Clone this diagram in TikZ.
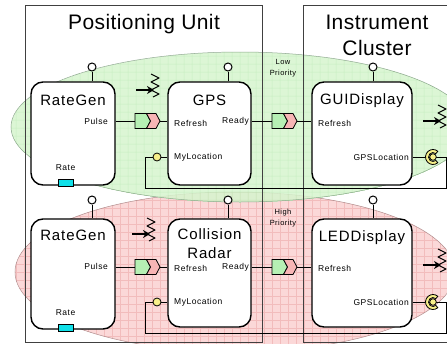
\documentclass[tikz,border=0pt]{standalone}
\usepackage{fontspec}
\setmainfont{Liberation Sans}[LetterSpace=6]
\newfontfamily\unitfont{Liberation Sans}[LetterSpace=2]
\usetikzlibrary{arrows.meta}

\definecolor{lowfill}{HTML}{D6F5CE}
\definecolor{lowgrid}{HTML}{BDEAB5}
\definecolor{lowedge}{HTML}{8AA88A}
\definecolor{highfill}{HTML}{FBD8D8}
\definecolor{highgrid}{HTML}{F2BCBC}
\definecolor{highedge}{HTML}{B08C8C}
\definecolor{chevgreen}{HTML}{B6F0B4}
\definecolor{chevpink}{HTML}{F7B5B5}
\definecolor{ballyellow}{HTML}{F7F08A}
\definecolor{ratecyan}{HTML}{10E0E8}

\tikzset{
  comp/.style={draw, line width=1.4pt, fill=white, rounded corners=12pt, inner sep=0},
  ctitle/.style={font=\fontsize{15}{19}\selectfont, align=center, inner sep=0, anchor=base},
  utitle/.style={font=\unitfont\fontsize{21}{26}\selectfont, inner sep=0, anchor=base},
  port/.style={font=\fontsize{8.5}{9}\selectfont, inner sep=0},
  prio/.style={font=\fontsize{7.5}{11}\selectfont, align=center, inner sep=0},
  wire/.style={draw, line width=1pt},
  gridline/.style={line width=0.5pt},
  pinball/.style={circle, draw, line width=1pt, fill=white, minimum size=8pt, inner sep=0},
  ball/.style={circle, draw, line width=0.8pt, fill=ballyellow, minimum size=8pt, inner sep=0},
  rateport/.style={draw, line width=0.8pt, fill=ratecyan, minimum width=15pt, minimum height=7pt, inner sep=0},
  unitbox/.style={draw=black!75, line width=0.9pt},
  chev/.pic={
    \filldraw[fill=chevgreen, line width=0.8pt] (-12.5,-7.5) -- (-1,-7.5) -- (3,0) -- (-1,7.5) -- (-12.5,7.5) -- cycle;
    \filldraw[fill=chevpink, line width=0.8pt] (-1,-7.5) -- (8.5,-7.5) -- (12.5,0) -- (8.5,7.5) -- (-1,7.5) -- (3,0) -- cycle;
    \coordinate (-in) at (-12.5,0);
    \coordinate (-out) at (12.5,0);
  },
  evt/.pic={
    \draw[line width=1pt, line join=round] (-4,-11) -- (4,-7) -- (-4,-3) -- (4,1) -- (-4,5) -- (4,9) -- (-2,12);
    \draw[line width=1.6pt, -{Stealth[length=7pt, width=8pt]}] (-19,5) -- (-1,5);
  },
}

\begin{document}
\begin{tikzpicture}[x=1pt,y=-1pt]
\useasboundingbox (0,0) rectangle (447,343);

% priority regions
\begin{scope}
  \clip (235,272) ellipse [x radius=220, y radius=80];
  \fill[highfill] (0,180) rectangle (460,360);
  \foreach \gx in {0,8,...,456} \draw[gridline, highgrid] (\gx,180) -- (\gx,360);
  \foreach \gy in {184,192,...,356} \draw[gridline, highgrid] (0,\gy) -- (460,\gy);
\end{scope}
\draw[highedge, line width=0.5pt] (235,272) ellipse [x radius=220, y radius=80];

\begin{scope}
  \clip (240,127) ellipse [x radius=229, y radius=75];
  \begin{scope}[opacity=0.85, transparency group]
    \fill[lowfill] (0,40) rectangle (470,210);
    \foreach \gx in {0,8,...,464} \draw[gridline, lowgrid] (\gx,40) -- (\gx,210);
    \foreach \gy in {48,56,...,208} \draw[gridline, lowgrid] (0,\gy) -- (470,\gy);
  \end{scope}
\end{scope}
\draw[lowedge, line width=0.5pt] (240,127) ellipse [x radius=229, y radius=75];

% units
\draw[unitbox] (25,5) rectangle (262,342);
\draw[unitbox] (303,5) rectangle (470,342);
\node[utitle] (posunit) at (144,29) {Positioning Unit};
\node[utitle] (instr) at (377,29) {Instrument};
\node[utitle] (cluster) at (377,55) {Cluster};

\node[prio] (lowprio) at (283,68) {Low\\Priority};
\node[prio] (highprio) at (283,218.5) {High\\Priority};

% components, low priority row
\node[comp, minimum width=84, minimum height=103] (rgA) at (73,133.5) {};
\node[comp, minimum width=83, minimum height=103] (gps) at (209.5,133.5) {};
\node[comp, minimum width=100, minimum height=103] (gui) at (362,133.5) {};
\node[ctitle] (rgA-t) at (73,105) {RateGen};
\node[ctitle] (gps-t) at (209.5,105) {GPS};
\node[ctitle] (gui-t) at (362,104) {GUIDisplay};

% components, high priority row
\node[comp, minimum width=84, minimum height=110] (rgB) at (73,274) {};
\node[comp, minimum width=83, minimum height=108] (radar) at (209.5,273) {};
\node[comp, minimum width=100, minimum height=108] (led) at (362,273) {};
\node[ctitle] (rgB-t) at (73,240) {RateGen};
\node[ctitle] (radar-t) at (209.5,258) {Collision\\Radar};
\node[ctitle] (led-t) at (362,241) {LEDDisplay};

% port labels
\node[port, anchor=east] (rgA-pulse) at (108,121) {Pulse};
\node[port] (rgA-rate) at (65.5,168) {Rate};
\node[port, anchor=west] (gps-refresh) at (174,123) {Refresh};
\node[port, anchor=east] (gps-ready) at (249,121) {Ready};
\node[port, anchor=west] (gps-myloc) at (174,157) {MyLocation};
\node[port, anchor=west] (gui-refresh) at (318,123) {Refresh};
\node[port, anchor=east] (gui-gpsloc) at (409,157) {GPSLocation};

\node[port, anchor=east] (rgB-pulse) at (108,266) {Pulse};
\node[port] (rgB-rate) at (65.5,313) {Rate};
\node[port, anchor=west] (radar-refresh) at (174,268) {Refresh};
\node[port, anchor=east] (radar-ready) at (249,267) {Ready};
\node[port, anchor=west] (radar-myloc) at (174,302) {MyLocation};
\node[port, anchor=west] (led-refresh) at (318,268) {Refresh};
\node[port, anchor=east] (led-gpsloc) at (409,302) {GPSLocation};

\node[rateport] (rgA-rp) at (65.5,183) {};
\node[rateport] (rgB-rp) at (65.5,328) {};

% top pins
\node[pinball] (rgA-pin) at (92,67) {};
\node[pinball] (gps-pin) at (228,67) {};
\node[pinball] (gui-pin) at (373,67) {};
\node[pinball] (rgB-pin) at (92,200) {};
\node[pinball] (radar-pin) at (228,200) {};
\node[pinball] (led-pin) at (373,200) {};
\foreach \p in {rgA, gps, gui, rgB, radar, led}
  \draw[line width=1pt] (\p-pin) -- (\p-pin |- \p.north);

% data links
\pic (lkA) at (147.5,121) {chev};
\pic (lkB) at (284.5,121) {chev};
\pic (lkC) at (147.5,267) {chev};
\pic (lkD) at (284.5,267) {chev};
\draw[wire] (rgA.east |- lkA-in) -- (lkA-in);
\draw[wire] (lkA-out) -- (gps.west |- lkA-out);
\draw[wire] (gps.east |- lkB-in) -- (lkB-in);
\draw[wire] (lkB-out) -- (gui.west |- lkB-out);
\draw[wire] (rgB.east |- lkC-in) -- (lkC-in);
\draw[wire] (lkC-out) -- (radar.west |- lkC-out);
\draw[wire] (radar.east |- lkD-in) -- (lkD-in);
\draw[wire] (lkD-out) -- (led.west |- lkD-out);

% location wires
\coordinate (guisock) at (433,157);
\coordinate (ledsock) at (433,302);
\draw[wire] (gui.east |- guisock) -- (guisock);
\draw[wire] (led.east |- ledsock) -- (ledsock);
\node[ball] (gps-ball) at (157,157) {};
\node[ball] (radar-ball) at (157,302) {};
\draw[wire] (gps-ball) -- (gps.west |- gps-ball);
\draw[wire] (radar-ball) -- (radar.west |- radar-ball);
\draw[wire] (gps-ball.west) -| (145,188) -| (446,157) -- (guisock);
\draw[wire] (radar-ball.west) -| (145,333) -| (446,302) -- (ledsock);

\foreach \s in {guisock, ledsock} {
  \filldraw[fill=ballyellow, line width=0.8pt] ([shift={(50:7.5)}]\s) arc[start angle=50, end angle=310, radius=7.5]
    -- ([shift={(310:4.5)}]\s) arc[start angle=310, end angle=50, radius=4.5] -- cycle;
  \filldraw[fill=ballyellow, line width=0.8pt] (\s) circle[radius=3.3];
}

% events
\pic (evA) at (155,85) {evt};
\pic (evB) at (151,229) {evt};
\pic (evC) at (442,116) {evt};
\pic (evD) at (442,260) {evt};

\end{tikzpicture}
\end{document}
